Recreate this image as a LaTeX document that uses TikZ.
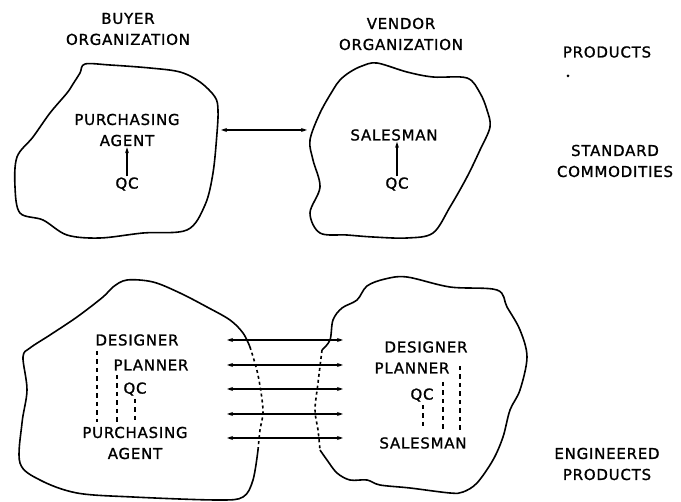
\documentclass[tikz,border=0pt]{standalone}
\usepackage{fontspec}
\setmainfont[LetterSpace=5, FakeBold=1.2]{DejaVu Sans}
\usetikzlibrary{arrows.meta}

\begin{document}
\begin{tikzpicture}[x=1pt, y=-1pt,
  every node/.style={font=\fontsize{15}{21}\selectfont, align=center, inner sep=1pt},
  blob/.style={line width=1.6pt, line join=round},
  link/.style={line width=1.3pt, {Stealth[length=6pt,width=4pt]}-{Stealth[length=6pt,width=4pt]}},
  up/.style={line width=1.3pt, -{Stealth[length=6pt,width=4pt]}},
  tie/.style={line width=1.1pt, dash pattern=on 4.5pt off 4pt}]
  \useasboundingbox (0,0) rectangle (681,502);

  \draw[blob] plot[smooth cycle, tension=0.55] coordinates {
    (80,73) (85,64) (110,65) (150,68) (180,72) (200,82) (215,97) (218,110)
    (217,133) (213,173) (205,205) (187,230) (143,233) (100,238) (67,235)
    (43,220) (20,213) (15,187) (17,157) (33,137) (50,113) (67,93) (73,84)};
  \draw[blob] plot[smooth cycle, tension=0.55] coordinates {
    (340,80) (350,72) (362,66) (377,63) (407,72) (433,77) (467,78) (480,93)
    (487,110) (490,127) (480,150) (467,177) (450,207) (433,233) (407,238)
    (373,237) (347,235) (320,233) (310,213) (320,187) (313,160) (310,140)
    (320,113) (333,90)};

  \node (buyer) at (128,29) {BUYER\\ORGANIZATION};
  \node (vendor) at (401,34) {VENDOR\\ORGANIZATION};
  \node (products) at (607,52) {PRODUCTS};
  \fill (568,76) circle (1.5pt);
  \node (std) at (615,161) {STANDARD\\COMMODITIES};

  \node (pa) at (127,130) {PURCHASING\\AGENT};
  \node (qcA) at (127,184) {QC};
  \draw[up] (qcA.north) -- (qcA.north |- pa.south);
  \node (sm) at (394,135) {SALESMAN};
  \node (qcB) at (397,184) {QC};
  \draw[up] (qcB.north) -- (qcB.north |- sm.south);

  \coordinate (bL) at (221,130);
  \coordinate (vR) at (307,130);
  \draw[link] (bL) -- (vR);

  \draw[blob] plot[smooth, tension=0.55] coordinates {
    (258,450) (253,480) (243,497) (217,500) (133,497) (77,493) (40,480)
    (20,463) (22,423) (27,390) (23,357) (30,348) (50,335) (77,317)
    (103,297) (113,287) (127,280) (153,282) (180,293) (207,307) (230,320)
    (243,333) (250,347)};
  \draw[blob, dashed] plot[smooth, tension=0.55] coordinates {
    (250,347) (258,375) (263,410) (260,430) (258,450)};
  \draw[blob] plot[smooth, tension=0.55] coordinates {
    (322,350) (330,340) (333,320) (342,308) (357,300) (367,286) (385,279)
    (407,277) (450,287) (497,290) (507,307) (520,330) (527,357) (520,390)
    (510,410) (503,437) (493,460) (477,483) (463,492) (450,493) (410,488)
    (380,485) (367,480) (350,480) (337,473) (327,460) (320,450)};
  \draw[blob, dashed] plot[smooth, tension=0.55] coordinates {
    (322,350) (318,383) (315,410) (318,430) (320,450)};

  \node (des) at (137,340) {DESIGNER};
  \node (plan) at (151,365) {PLANNER};
  \node (qcC) at (135,389) {QC};
  \node (pa2) at (135,443) {PURCHASING\\AGENT};
  \draw[tie] (97,351) -- (97,422);
  \draw[tie] (117,375) -- (117,422);
  \draw[tie] (135,399) -- (135,422);

  \node (des2) at (426,347) {DESIGNER};
  \node (plan2) at (412,368) {PLANNER};
  \node (qcD) at (422,395) {QC};
  \node (sm2) at (423,443) {SALESMAN};
  \draw[tie] (460,366) -- (460,430);
  \draw[tie] (443,382) -- (443,430);
  \draw[tie] (423,405) -- (423,430);

  \foreach \i/\y in {1/340,2/365,3/389,4/414,5/438} {
    \coordinate (l\i) at (227,\y);
    \coordinate (r\i) at (343,\y);
    \draw[link] (l\i) -- (r\i);
  }

  \node (eng) at (607,464) {ENGINEERED\\PRODUCTS};
\end{tikzpicture}
\end{document}
